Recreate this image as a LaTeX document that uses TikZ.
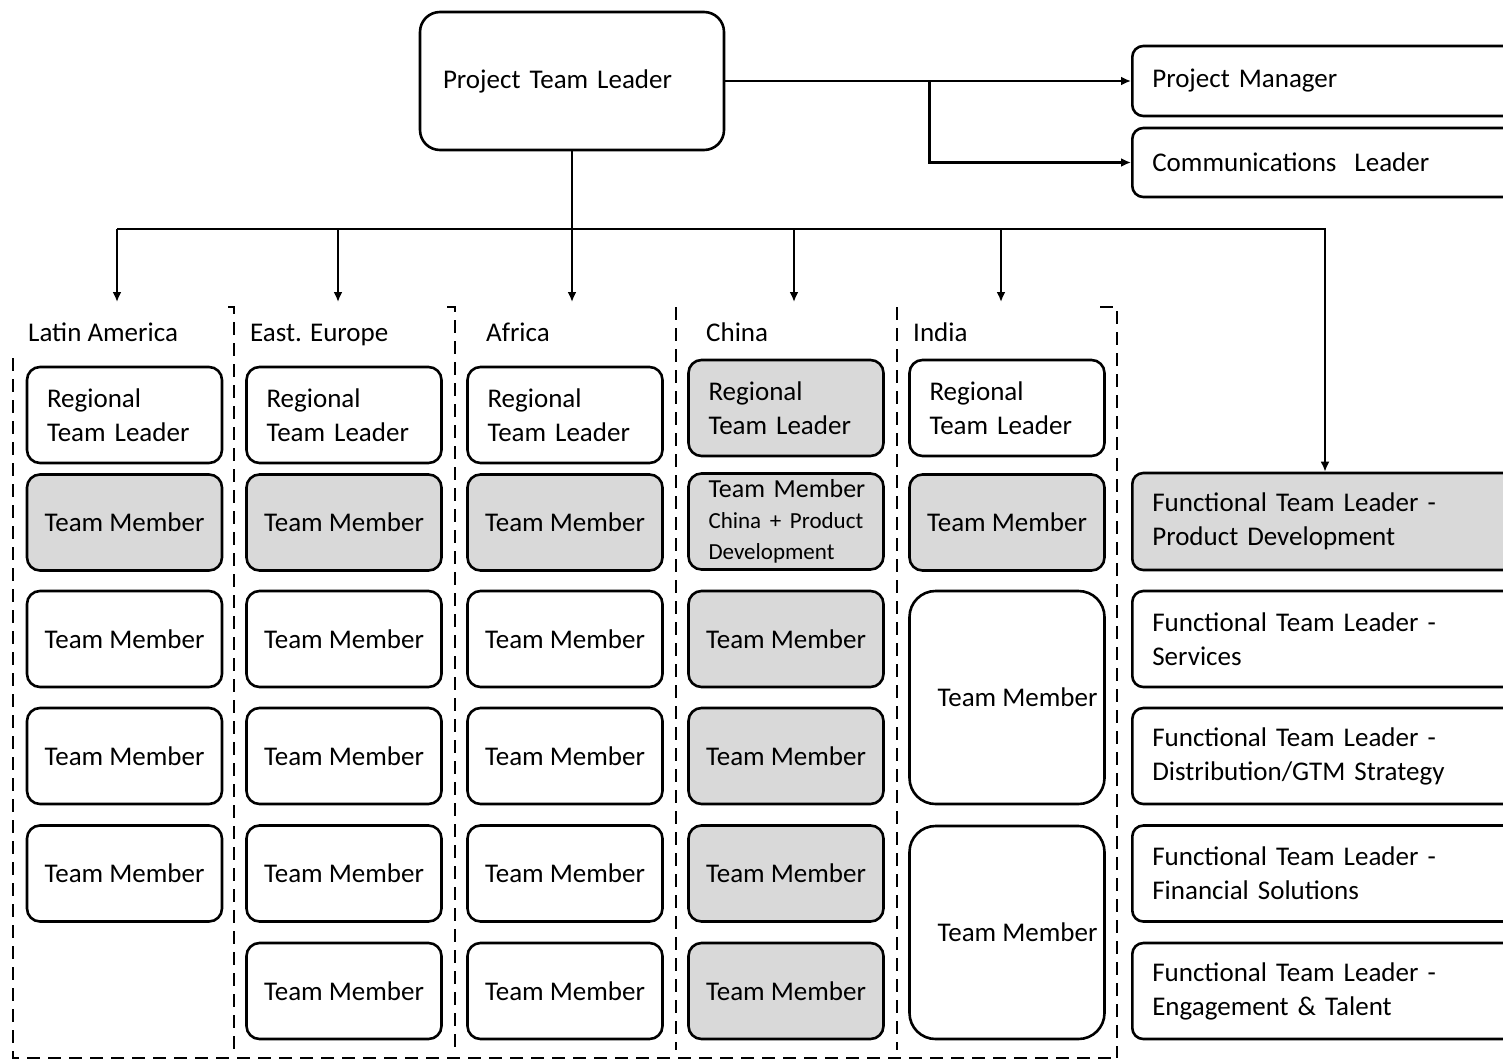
\documentclass[tikz,border=0pt]{standalone}
\usepackage{fontspec}
\setmainfont{Carlito}
\usetikzlibrary{arrows.meta}
\definecolor{boxgray}{HTML}{D9D9D9}
\begin{document}
\begin{tikzpicture}[x=1pt,y=-1pt,
  every node/.style={font=\fontsize{27}{34}\selectfont},
  box/.style={draw, line width=2.6pt, rounded corners=13pt, minimum width=195pt,
    minimum height=96pt, inner sep=0pt, align=center, fill=white},
  gbox/.style={box, fill=boxgray},
  lbox/.style={box, align=left, text width=155pt, inner xsep=20pt},
  rbox/.style={draw, line width=2.6pt, rounded corners=11pt, anchor=west,
    align=left, text width=369pt, inner xsep=20pt, inner ysep=0pt, fill=white},
  lbl/.style={anchor=base west, inner sep=0pt},
  conn/.style={line width=2.6pt},
  arr/.style={line width=2.6pt, -{Latex[length=10pt,width=9pt]}},
  dsh/.style={line width=2.2pt, dash pattern=on 13pt off 8pt}]
\clip (0,0) rectangle (1503,1060);
\fill[white] (0,0) rectangle (1503,1060);

% dashed frame
\draw[dsh] (13,358) -- (13,1058) -- (1117,1058);
\draw[dsh] (1100,307) -- (1117,307) -- (1117,1058);
\draw[dsh] (228,307) -- (234,307) -- (234,1050);
\draw[dsh] (447,307) -- (455,307) -- (455,1050);
\draw[dsh] (676,307) -- (676,1050);
\draw[dsh] (897,307) -- (897,1050);

% top nodes
\node[draw, line width=2.6pt, rounded corners=20pt, minimum height=138pt,
  text width=258pt, inner xsep=23pt, align=left, fill=white] (ptl) at (572,81) {Project Team Leader};
\node[rbox, minimum height=70pt] (pm) at (1131,81) {Project Manager};
\node[rbox, minimum height=69pt] (cl) at (1131,162.5) {Communications~ Leader};

% column labels
\node[lbl] (lla) at (28,341) {Latin America};
\node[lbl] (lee) at (250,341) {East. Europe};
\node[lbl] (laf) at (486,341) {Africa};
\node[lbl] (lch) at (706,341) {China};
\node[lbl] (lin) at (913,341) {India};

% Latin America, East Europe, Africa
\foreach \c/\x in {la/124.5,ee/344,af/565}{
  \node[lbox] (\c1) at (\x,415) {Regional\\Team Leader};
  \node[gbox] (\c2) at (\x,522.5) {Team Member};
  \node[box] (\c3) at (\x,639) {Team Member};
  \node[box] (\c4) at (\x,756) {Team Member};
  \node[box] (\c5) at (\x,873.5) {Team Member};
}
\foreach \c/\x in {ee/344,af/565}{
  \node[box] (\c6) at (\x,991) {Team Member};
}

% China
\node[lbox, fill=boxgray] (ch1) at (786,408) {Regional\\Team Leader};
\node[lbox, fill=boxgray, font=\fontsize{26}{31}\selectfont] (ch2) at (786,521.5)
  {\mbox{Team Member}\\\fontsize{23}{31}\selectfont\mbox{China + Product}\\\mbox{Development}};
\node[gbox] (ch3) at (786,639) {Team Member};
\node[gbox] (ch4) at (786,756) {Team Member};
\node[gbox] (ch5) at (786,873.5) {Team Member};
\node[gbox] (ch6) at (786,991) {Team Member};

% India
\node[lbox] (in1) at (1007,408) {Regional\\Team Leader};
\node[gbox] (in2) at (1007,522.5) {Team Member};
\node[box, minimum height=213pt, rounded corners=26pt] (in3) at (1007,697.5) {\hspace*{21pt}Team Member};
\node[box, minimum height=213pt, rounded corners=26pt] (in4) at (1007,932.5) {\hspace*{21pt}Team Member};

% Functional team leaders
\node[rbox, minimum height=97pt, fill=boxgray] (ftl1) at (1131,521.5) {Functional Team Leader -\\Product Development};
\node[rbox, minimum height=96pt] (ftl2) at (1131,639) {Functional Team Leader -\\Services};
\node[rbox, minimum height=96pt] (ftl3) at (1131,756) {Functional Team Leader -\\Distribution/GTM Strategy};
\node[rbox, minimum height=96pt] (ftl4) at (1131,873.5) {Functional Team Leader -\\Financial Solutions};
\node[rbox, minimum height=96pt] (ftl5) at (1131,991) {Functional Team Leader -\\Engagement \& Talent};

% connectors
\draw[arr] (ptl.east) -- (pm.west);
\draw[arr] ([xshift=204pt]ptl.east) |- (cl.west);

\coordinate (bus) at (572,229);
\coordinate (tLA) at (117,302);
\coordinate (tEE) at (338,302);
\coordinate (tAF) at (572,302);
\coordinate (tCH) at (794,302);
\coordinate (tIN) at (1001,302);
\draw[conn] (ptl.south) -- (bus);
\draw[conn] (bus -| tLA) -- (bus -| tIN);
\draw[arr] (bus -| tLA) -- (tLA);
\draw[arr] (bus -| tEE) -- (tEE);
\draw[arr] (bus) -- (tAF);
\draw[arr] (bus -| tCH) -- (tCH);
\draw[arr] (bus -| tIN) -- (tIN);
\draw[arr] (bus -| tIN) -| ([xshift=194pt]ftl1.north west);
\end{tikzpicture}
\end{document}
